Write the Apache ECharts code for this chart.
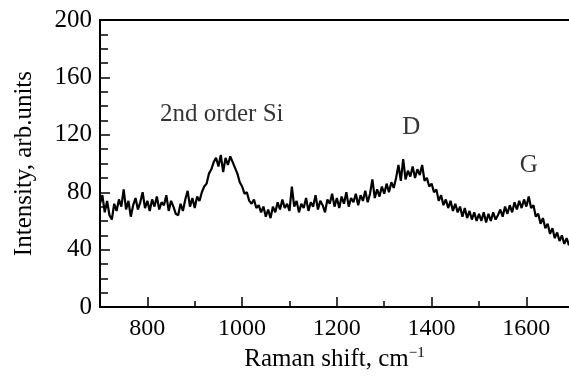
<!DOCTYPE html>
<html>
<head>
<meta charset="utf-8">
<script src="https://cdn.jsdelivr.net/npm/echarts@6/dist/echarts.min.js"></script>
<style>
  html, body { margin: 0; padding: 0; background: #fff; }
  #chart-container { width: 569px; height: 377px; }
</style>
</head>
<body>
<div id="chart-container"></div>
<script>
// Raman spectrum, every 5 cm-1
var ramanStart = 700;
var ramanStep = 5;
var intensity = [
  72, 78, 66, 74, 64, 61, 72, 67, 75, 70, 82, 68, 74, 63, 71, 76, 68, 73, 80, 69,   // 700-795
  74, 67, 75, 70, 77, 68, 73, 71, 78, 67, 74, 70, 65, 64, 72, 67, 75, 81, 70, 76,   // 800-895
  69, 77, 74, 80, 84, 86, 93, 96, 101, 104, 98, 106, 94, 104, 99, 105, 101, 97, 93, 87, // 900-995
  84, 79, 80, 74, 72, 75, 69, 71, 66, 70, 63, 68, 62, 70, 66, 73, 68, 75, 69, 72,   // 1000-1095
  67, 84, 70, 74, 66, 72, 69, 76, 67, 73, 70, 78, 68, 74, 71, 66, 75, 72, 79, 70,   // 1100-1195
  76, 69, 77, 72, 80, 70, 76, 73, 79, 71, 78, 74, 81, 73, 79, 89, 76, 82, 77, 84,   // 1200-1295
  79, 86, 80, 87, 83, 90, 99, 88, 103, 89, 95, 91, 98, 90, 96, 92, 99, 88, 90, 84,  // 1300-1395
  86, 80, 82, 74, 78, 71, 75, 69, 74, 67, 72, 66, 70, 63, 69, 62, 67, 61, 66, 60,   // 1400-1495
  65, 60, 66, 59, 65, 60, 66, 61, 64, 68, 63, 70, 65, 71, 66, 73, 68, 74, 69, 75,   // 1500-1595
  70, 77, 69, 71, 63, 65, 58, 62, 55, 58, 51, 55, 48, 52, 46, 50, 44, 48, 43        // 1600-1690
];

var xMajorTicks = [800, 1000, 1200, 1400, 1600];
var xMinorTicks = [900, 1100, 1300, 1500];

var peakNames = ['2nd order Si', 'D', 'G'];
var peakNameX = [957, 1357, 1605];
var peakNameY = [134, 125, 99];

var dom = document.getElementById('chart-container');
var myChart = echarts.init(dom, null, { renderer: 'canvas' });

var spectrum = intensity.map(function (v, i) {
  return [ramanStart + i * ramanStep, v];
});
var peakLabels = peakNames.map(function (name, i) {
  return { value: [peakNameX[i], peakNameY[i]], name: name };
});

var font = 'Liberation Serif';

var option = {
  animation: false,
  textStyle: { fontFamily: font, color: '#000' },
  grid: { left: 100, right: 0, top: 20, bottom: 65 },
  xAxis: [
    {
      type: 'value',
      min: 700,
      max: 1690,
      position: 'bottom',
      name: 'Raman shift, {s|cm}{sup|\u22121}',
      nameLocation: 'middle',
      nameGap: 37,
      nameTextStyle: {
        fontFamily: font, fontSize: 25, color: '#000',
        rich: {
          s: { fontFamily: font, fontSize: 25, color: '#000' },
          sup: { fontFamily: font, fontSize: 15, color: '#000', verticalAlign: 'top', padding: [0, 0, 12, 0] }
        }
      },
      axisLine: { show: true, onZero: false, lineStyle: { color: '#000', width: 2 } },
      axisTick: { show: true, inside: true, length: 10, customValues: xMajorTicks, lineStyle: { color: '#000', width: 1.5 } },
      axisLabel: {
        show: true, customValues: xMajorTicks, margin: 10,
        fontFamily: font, fontSize: 24, color: '#000',
        formatter: function (v) { return String(v); }
      },
      splitLine: { show: false }
    },
    {
      type: 'value',
      min: 700,
      max: 1690,
      position: 'bottom',
      axisLine: { show: false },
      axisTick: { show: true, inside: true, length: 6, customValues: xMinorTicks, lineStyle: { color: '#000', width: 1.5 } },
      axisLabel: { show: false },
      splitLine: { show: false }
    },
    {
      type: 'value',
      min: 700,
      max: 1690,
      position: 'top',
      axisLine: { show: true, onZero: false, lineStyle: { color: '#000', width: 2 } },
      axisTick: { show: false },
      axisLabel: { show: false },
      splitLine: { show: false }
    }
  ],
  yAxis: {
    type: 'value',
    min: 0,
    max: 200,
    interval: 40,
    name: 'Intensity, arb.units',
    nameLocation: 'middle',
    nameGap: 63,
    nameTextStyle: { fontFamily: font, fontSize: 25, color: '#000' },
    axisLine: { show: true, onZero: false, lineStyle: { color: '#000', width: 2 } },
    axisTick: { show: true, inside: true, length: 10, lineStyle: { color: '#000', width: 1.5 } },
    minorTick: { show: true, splitNumber: 4, length: 8, lineStyle: { color: '#000', width: 1.5 } },
    axisLabel: { margin: 8, fontFamily: font, fontSize: 25, color: '#000' },
    splitLine: { show: false },
    minorSplitLine: { show: false }
  },
  series: [
    {
      name: 'Raman',
      type: 'line',
      xAxisIndex: 0,
      showSymbol: false,
      symbol: 'none',
      lineStyle: { color: '#000', width: 2.2 },
      data: spectrum
    },
    {
      name: 'Peaks',
      type: 'scatter',
      xAxisIndex: 0,
      symbolSize: 0,
      label: {
        show: true,
        position: 'inside',
        formatter: '{b}',
        fontFamily: font,
        fontSize: 25,
        color: '#000'
      },
      data: peakLabels
    }
  ]
};

myChart.setOption(option);
window.addEventListener('resize', myChart.resize);
</script>
</body>
</html>
